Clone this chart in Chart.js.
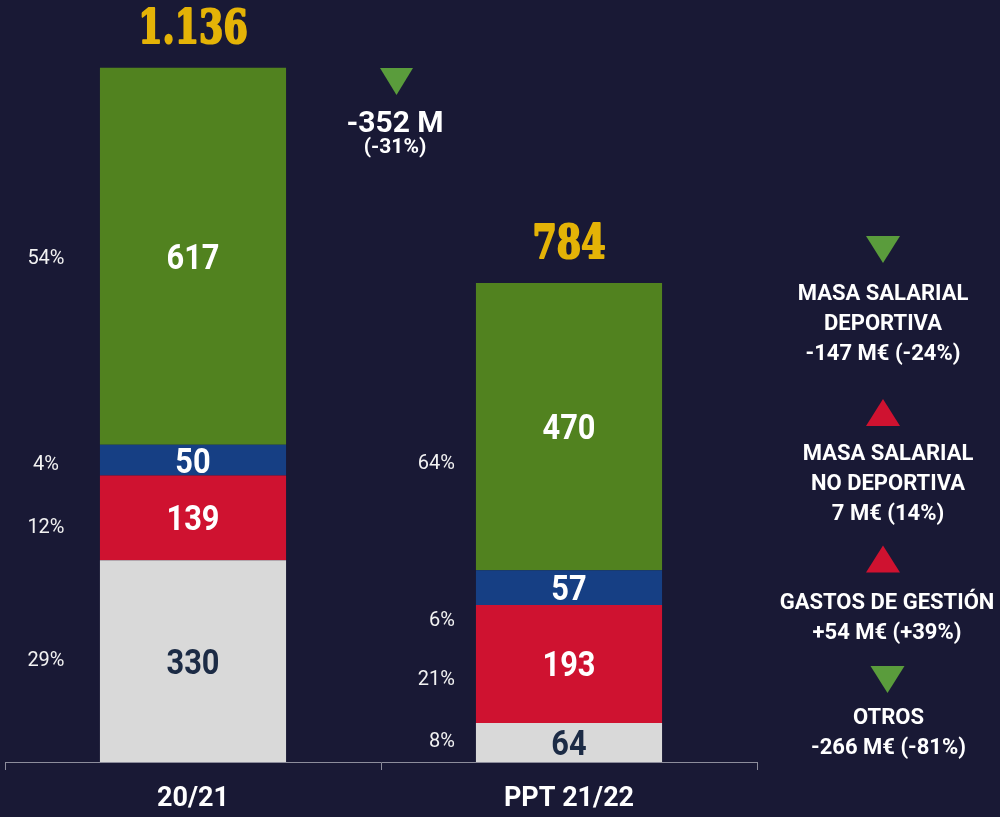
<!DOCTYPE html>
<html><head><meta charset="utf-8">
<script src="https://cdn.jsdelivr.net/npm/chart.js@4"></script>
<style>html,body{margin:0;padding:0;background:#191935;}canvas{display:block}</style>
</head><body><canvas id="c" width="1000" height="817"></canvas>
<script>
// ---- data ----
const categories = ['20/21', 'PPT 21/22'];
const otros = [330, 64];
const gastosGestion = [139, 193];
const masaNoDeportiva = [50, 57];
const masaDeportiva = [617, 470];
const totalLabels = ['1.136', '784'];
const pctOtros = ['29%', '8%'];
const pctGastos = ['12%', '21%'];
const pctNoDeportiva = ['4%', '6%'];
const pctDeportiva = ['54%', '64%'];
const changeTotal = ['-352 M', '(-31%)'];
const changeNotes = [
  {dir: 'down', lines: ['MASA SALARIAL', 'DEPORTIVA', '-147 M€ (-24%)']},
  {dir: 'up', lines: ['MASA SALARIAL', 'NO DEPORTIVA', '7 M€ (14%)']},
  {dir: 'up', lines: ['GASTOS DE GESTIÓN', '+54 M€ (+39%)']},
  {dir: 'down', lines: ['OTROS', '-266 M€ (-81%)']}
];

// ---- styling ----
const BG = '#191935';
const GREEN = '#51821f', BLUE = '#163f84', RED = '#cf1230', GREY = '#d9d9d9';
const ARROW_GREEN = '#5a9c3c', ARROW_RED = '#cf1230';
const pctYOffsets = [[-2, 8.5, 3, 1], [-3, 14, 31.5, 35.5]]; // per category, per dataset (px)
const pctXOffsets = [-54, -21];
const pctAlign = ['center', 'right'];
const noteArrowPos = [[883, 249.5], [883, 412.5], [883, 559], [887.5, 679.5]];
const noteTextPos = [[883, 292.5], [888, 452], [887, 601], [888.5, 716]];

const seriesDefs = [
  {label: 'Otros', data: otros, color: GREY, text: '#1c2b45', pct: pctOtros},
  {label: 'Gastos de gestión', data: gastosGestion, color: RED, text: '#ffffff', pct: pctGastos},
  {label: 'Masa salarial no deportiva', data: masaNoDeportiva, color: BLUE, text: '#ffffff', pct: pctNoDeportiva},
  {label: 'Masa salarial deportiva', data: masaDeportiva, color: GREEN, text: '#ffffff', pct: pctDeportiva}
];

function tri(ctx, cx, cy, w, h, dir, color) {
  ctx.fillStyle = color;
  ctx.beginPath();
  if (dir === 'down') {
    ctx.moveTo(cx - w / 2, cy - h / 2); ctx.lineTo(cx + w / 2, cy - h / 2); ctx.lineTo(cx, cy + h / 2);
  } else {
    ctx.moveTo(cx - w / 2, cy + h / 2); ctx.lineTo(cx + w / 2, cy + h / 2); ctx.lineTo(cx, cy - h / 2);
  }
  ctx.closePath(); ctx.fill();
}
// draw text with its cap-height centred on cy (Roboto cap height ~0.711em)
function capText(ctx, txt, x, cy, size) {
  ctx.fillText(txt, x, cy + size * 0.711 / 2);
}

const labelPlugin = {
  id: 'labels',
  beforeDraw(chart) {
    const ctx = chart.ctx;
    ctx.save(); ctx.fillStyle = BG; ctx.fillRect(0, 0, chart.width, chart.height); ctx.restore();
  },
  afterDatasetsDraw(chart) {
    const ctx = chart.ctx;
    ctx.save();
    ctx.textAlign = 'center';
    ctx.textBaseline = 'alphabetic';
    seriesDefs.forEach((s, di) => {
      const meta = chart.getDatasetMeta(di);
      meta.data.forEach((el, i) => {
        const cy = (el.y + el.base) / 2;
        ctx.save();
        ctx.translate(el.x, cy);
        ctx.scale(0.88, 1);
        ctx.fillStyle = s.text;
        ctx.font = 'bold 35px Roboto';
        ctx.textAlign = 'center';
        capText(ctx, String(s.data[i]), 0, 0, 35);
        ctx.restore();
        ctx.fillStyle = '#f2f2f2';
        ctx.font = '20px Roboto';
        ctx.textAlign = pctAlign[i];
        capText(ctx, s.pct[i], el.x - el.width / 2 + pctXOffsets[i], cy + pctYOffsets[i][di], 20);
      });
    });
    ctx.textAlign = 'center';
    // totals above bars
    const topMeta = chart.getDatasetMeta(seriesDefs.length - 1);
    topMeta.data.forEach((el, i) => {
      ctx.save();
      ctx.translate(el.x, el.y - 25);
      ctx.scale(0.76, 1);
      ctx.fillStyle = '#e4b307';
      ctx.strokeStyle = '#e4b307';
      ctx.lineWidth = 2.2;
      ctx.lineJoin = 'round';
      ctx.font = 'bold 46px "DejaVu Serif"';
      ctx.fillText(totalLabels[i], 0, 0);
      ctx.strokeText(totalLabels[i], 0, 0);
      ctx.restore();
    });
    // overall change
    tri(ctx, 396.5, 81.5, 33, 27, 'down', ARROW_GREEN);
    ctx.fillStyle = '#ffffff';
    ctx.font = 'bold 30px Roboto';
    capText(ctx, changeTotal[0], 395, 121, 30);
    ctx.font = 'bold 21px Roboto';
    capText(ctx, changeTotal[1], 395, 145.5, 21);
    // right side notes
    changeNotes.forEach((n, k) => {
      tri(ctx, noteArrowPos[k][0], noteArrowPos[k][1], 34, 27, n.dir, n.dir === 'down' ? ARROW_GREEN : ARROW_RED);
      ctx.fillStyle = '#ffffff';
      ctx.font = 'bold 22px Roboto';
      n.lines.forEach((t, j) => capText(ctx, t, noteTextPos[k][0], noteTextPos[k][1] + j * 30, 22));
    });
    ctx.restore();
  }
};

new Chart(document.getElementById('c'), {
  type: 'bar',
  data: {
    labels: categories,
    datasets: seriesDefs.map(s => ({
      label: s.label, data: s.data, backgroundColor: s.color,
      borderWidth: 0, barPercentage: 0.495, categoryPercentage: 1, stack: 's'
    }))
  },
  options: {
    responsive: false, animation: false,
    layout: {padding: {left: 5, right: 243, top: 0, bottom: 0}},
    plugins: {legend: {display: false}, tooltip: {enabled: false}},
    scales: {
      x: {
        stacked: true, offset: true,
        grid: {display: true, drawOnChartArea: false, drawTicks: true, tickLength: 8, color: '#8d8d9c', offset: true},
        border: {display: true, color: '#8d8d9c', width: 1},
        ticks: {color: '#ffffff', font: {family: 'Roboto', weight: 'bold', size: 27}, padding: 13},
        afterFit(s) { s.height = 55; }
      },
      y: {stacked: true, display: false, min: 0, max: 1247}
    }
  },
  plugins: [labelPlugin]
});
</script></body></html>
